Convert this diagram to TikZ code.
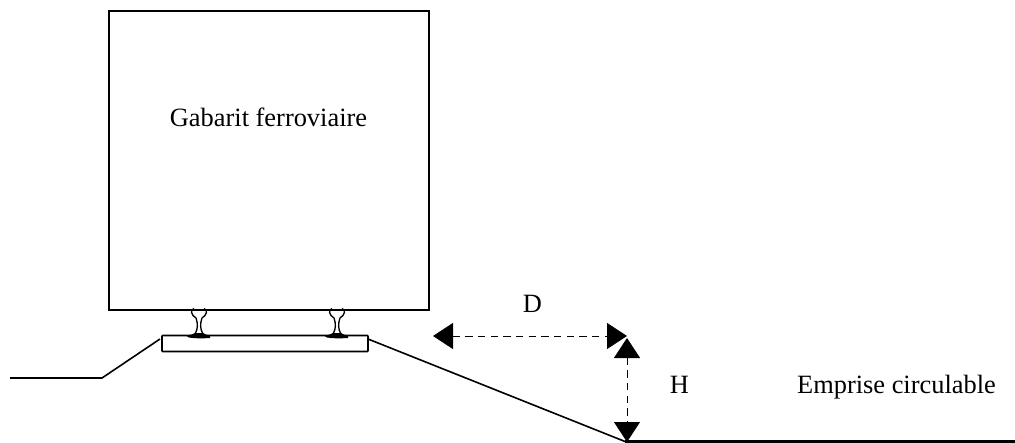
\documentclass[tikz,border=0pt]{standalone}
\usepackage{fontspec}
\setmainfont{Liberation Serif}
\usetikzlibrary{arrows.meta}

\tikzset{
  trait/.style={line width=1.2pt},
  cadre/.style={draw,line width=1.5pt,anchor=north west,inner sep=0pt,outer sep=0pt},
  cote/.style={line width=0.7pt,dash pattern=on 5.5pt off 4pt,{Triangle[length=15pt,width=19.5pt]}-{Triangle[length=15pt,width=19.5pt]}},
  libelle/.style={anchor=base,inner sep=0pt,font=\fontsize{19.8}{24}\selectfont}
}

\begin{document}
\begin{tikzpicture}[x=0.75pt,y=0.75pt,yscale=-1,xscale=1]
\useasboundingbox (0,0) rectangle (1015,443);

%Shape: Rectangle
\node (gabarit) [cadre,minimum width=240pt,minimum height=224.25pt] at (109,11) {};
%Shape: Rectangle
\node (traverse) [cadre,line width=1.2pt,rounded corners=0.6pt,minimum width=154.5pt,minimum height=12pt] at (162,335.5) {};

%Rails
\foreach \x in {199,337} {
\begin{scope}[shift={(\x,0)}]
\draw [line width=1pt] (-5,308.5) .. controls (-9,310) and (-8,315) .. (-3,318) .. controls (-1,324) and (-1,329) .. (-4,334) ;
\draw [line width=1pt] (5,308.5) .. controls (9,310) and (8,315) .. (3,318) .. controls (1,324) and (1,329) .. (4,334) ;
\fill (-13,335.5) .. controls (-9,335) and (-6,334.5) .. (-4,333) -- (4,333) .. controls (6,334.5) and (8,335) .. (11,335.5) -- (11,338) .. controls (3,338.5) and (-5,338.5) .. (-10,337.5) -- cycle ;
\end{scope}
}

%Straight Lines
\coordinate (gaucheA) at (10,378);
\coordinate (gaucheB) at (102,378);
\coordinate (gaucheC) at (160,339);
\draw [trait] (gaucheA) -- (gaucheB) -- (gaucheC) ;

%Straight Lines
\coordinate (talusA) at (368,339);
\coordinate (talusB) at (625,441.5);
\coordinate (solB) at (1015,441.5);
\draw [trait] (talusA) -- (talusB) ;
\draw [line width=2.5pt] (talusB) -- (solB) ;

%Dimension lines
\coordinate (dA) at (433,336);
\coordinate (dB) at (627,336);
\coordinate (hA) at (627,338);
\coordinate (hB) at (627,442);
\draw [cote] (dA) -- (dB) ;
\draw [cote] (hA) -- (hB) ;

% Text Node
\node (titre) [libelle] at (268.5,126.5) {Gabarit ferroviaire};
% Text Node
\node (cotedist) [libelle] at (532.5,312) {D};
% Text Node
\node (cotehaut) [libelle] at (679.5,393) {H};
% Text Node
\node (emprise) [libelle] at (896.5,393) {Emprise circulable};

\end{tikzpicture}
\end{document}
